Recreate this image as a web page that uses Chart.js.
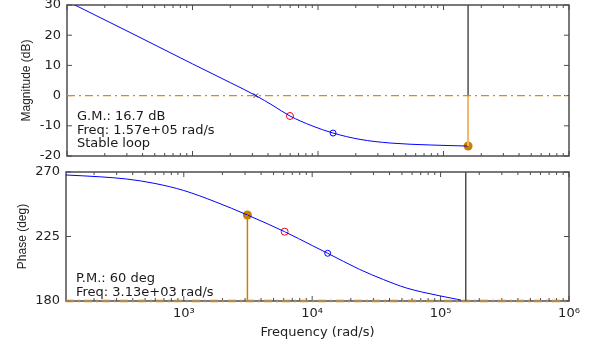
<!DOCTYPE html>
<html>
<head>
<meta charset="utf-8">
<script src="https://cdn.jsdelivr.net/npm/chart.js@4/dist/chart.umd.min.js"></script>
<style>
  body { margin: 0; background: #fff; }
  #wrap { position: relative; width: 597px; height: 346px; }
  canvas { position: absolute; left: 0; top: 0; }
</style>
</head>
<body>
<div id="wrap">
  <canvas id="mag" width="597" height="346"></canvas>
  <canvas id="phase" width="597" height="346"></canvas>
</div>
<script>
// magnitude curve (rad/s, dB)
const magFreq = [100, 318, 1000, 2000, 3200, 4375, 5980, 8950, 13180, 21620, 37500, 78000, 157000];
const magDb   = [31.3, 20.9, 10.5, 4.3, 0, -3.3, -6.75, -10.0, -12.4, -14.5, -15.7, -16.35, -16.7];

// phase curve (rad/s, deg)
const phaseFreq = [121, 222, 360, 596, 1000, 1774, 3130, 6100, 10000, 13200, 23340, 35840, 54040, 97500, 144000];
const phaseDeg  = [267.9, 266.65, 265.1, 262.0, 257.1, 249.1, 240, 228.35, 218.7, 213.3, 202.1, 195.0, 189.1, 183.7, 180.7];

// circle markers on the curves (red, blue)
const magMarkFreq = [5980, 13180];
const magMarkDb = [-6.75, -12.4];
const phaseMarkFreq = [6100, 13200];
const phaseMarkDeg = [228.35, 213.3];

// margins
const crossFreq = 3200;
const gmFreq = 1.57e5;
const gmLevel = -16.7;
const pmFreq = 3130;
const pmLevel = 240;

// axes
const magFreqRange = [100, 1e6];
const phaseFreqRange = [121, 1e6];
const magRange = [-20, 30];
const phaseRange = [180, 270];
const freqTickValues = [1e3, 1e4, 1e5, 1e6];
const freqTickLabels = ['10³', '10⁴', '10⁵', '10⁶'];

const gmText = ['G.M.: 16.7 dB', 'Freq: 1.57e+05 rad/s', 'Stable loop'];
const pmText = ['P.M.: 60 deg', 'Freq: 3.13e+03 rad/s'];

const orange = 'rgb(204,128,0)';
const dashOrange = 'rgb(222,140,0)';
const axisGray = '#4d4d4d';

Chart.defaults.font.family = 'DejaVu Sans';
Chart.defaults.color = '#222';

function pts(xs, ys) {
  return xs.map((x, i) => ({ x: x, y: ys[i] }));
}

function logTicks(scale) {
  const out = [];
  for (let d = 2; d <= 5; d++) {
    for (let m = 1; m <= 9; m++) {
      const v = m * Math.pow(10, d);
      if (v >= scale.min && v <= scale.max) out.push({ value: v, major: m === 1 });
    }
  }
  out.push({ value: 1e6, major: true });
  scale.ticks = out;
}

// MATLAB style box with inward ticks on all four sides
const boxTicks = {
  id: 'boxTicks',
  beforeDatasetsDraw(chart) {
    const { ctx, chartArea: a, scales: { x, y } } = chart;
    ctx.save();
    ctx.strokeStyle = axisGray;
    ctx.lineWidth = 1;
    ctx.beginPath();
    x.ticks.forEach(t => {
      const px = x.getPixelForValue(t.value);
      const len = t.major ? 5 : 3;
      ctx.moveTo(px, a.bottom); ctx.lineTo(px, a.bottom - len);
      ctx.moveTo(px, a.top); ctx.lineTo(px, a.top + len);
    });
    y.ticks.forEach(t => {
      const py = y.getPixelForValue(t.value);
      ctx.moveTo(a.left, py); ctx.lineTo(a.left + 5, py);
      ctx.moveTo(a.right, py); ctx.lineTo(a.right - 5, py);
    });
    ctx.stroke();
    ctx.lineWidth = 1.5;
    ctx.strokeRect(a.left, a.top, a.right - a.left, a.bottom - a.top);
    ctx.restore();
  }
};

const notes = {
  id: 'notes',
  afterDraw(chart, args, opts) {
    const { ctx, chartArea: a } = chart;
    ctx.save();
    ctx.font = '13px "DejaVu Sans"';
    ctx.fillStyle = '#1a1a1a';
    ctx.textBaseline = 'alphabetic';
    opts.lines.forEach((s, i) => {
      ctx.fillText(s, a.left + 10, a.top + opts.first + i * 13.6);
    });
    ctx.restore();
  }
};

function yAxis(range, step, title, width, titlePad) {
  return {
    min: range[0], max: range[1],
    ticks: { stepSize: step, padding: 6, font: { size: 13 }, color: '#222' },
    grid: { display: false, drawTicks: false },
    border: { display: false },
    title: { display: true, text: title, color: '#222', font: { family: 'Liberation Sans', size: 12 }, padding: { top: titlePad, bottom: 0 } },
    afterFit: s => { s.width = width; s.paddingTop = 0; s.paddingBottom = 0; }
  };
}

// magnitude panel
new Chart(document.getElementById('mag'), {
  type: 'line',
  data: {
    datasets: [
      { data: pts(magFreqRange, [0, 0]), borderColor: dashOrange, borderWidth: 1.4, borderDash: [8, 4, 2, 4], pointRadius: 0 },
      { data: pts([gmFreq, gmFreq], [magRange[1], 0]), borderColor: 'rgb(80,80,80)', borderWidth: 1.5, pointRadius: 0 },
      { data: pts([gmFreq, gmFreq], [0, gmLevel]), borderColor: 'rgb(235,185,110)', borderWidth: 2, pointRadius: 0 },
      { data: pts(magFreq, magDb), borderColor: '#0000ff', borderWidth: 1, pointRadius: 0, cubicInterpolationMode: 'monotone' },
      { data: pts([crossFreq], [0]), showLine: false, pointStyle: 'crossRot', pointRadius: 3, pointBorderColor: '#202070', pointBorderWidth: 1 },
      { data: pts(magMarkFreq, magMarkDb), showLine: false, pointRadius: [3.5, 3], pointBorderColor: ['#ff0000', '#0000ff'], pointBackgroundColor: 'rgba(0,0,0,0)', pointBorderWidth: 1 },
      { data: pts([gmFreq], [gmLevel]), showLine: false, pointRadius: 4.5, pointBackgroundColor: orange, pointBorderWidth: 0, clip: false }
    ]
  },
  options: {
    responsive: false, animation: false, events: [],
    layout: { padding: { top: 5, right: 28, bottom: 190, left: 0 } },
    plugins: { legend: { display: false }, tooltip: { enabled: false }, notes: { lines: gmText, first: 115 } },
    scales: {
      x: {
        type: 'logarithmic', min: magFreqRange[0], max: magFreqRange[1],
        afterBuildTicks: logTicks,
        ticks: { display: false },
        grid: { display: false, drawTicks: false },
        border: { display: false },
        afterFit: s => { s.height = 0; s.paddingLeft = 0; s.paddingRight = 0; }
      },
      y: yAxis(magRange, 10, 'Magnitude (dB)', 67, 19)
    }
  },
  plugins: [boxTicks, notes]
});

// phase panel
new Chart(document.getElementById('phase'), {
  type: 'line',
  data: {
    datasets: [
      { data: pts([gmFreq, gmFreq], phaseRange), borderColor: 'rgb(80,80,80)', borderWidth: 1.5, pointRadius: 0 },
      { data: pts(phaseFreqRange, [180, 180]), borderColor: 'rgba(215,150,60,0.6)', borderWidth: 3, borderDash: [8, 4, 2, 4], pointRadius: 0, clip: false },
      { data: pts([pmFreq, pmFreq], [180, pmLevel]), borderColor: orange, borderWidth: 1.5, pointRadius: 0 },
      { data: pts(phaseFreq, phaseDeg), borderColor: '#0000ff', borderWidth: 1, pointRadius: 0, cubicInterpolationMode: 'monotone' },
      { data: pts(phaseMarkFreq, phaseMarkDeg), showLine: false, pointRadius: [3.5, 3], pointBorderColor: ['#ff0000', '#0000ff'], pointBackgroundColor: 'rgba(0,0,0,0)', pointBorderWidth: 1 },
      { data: pts([pmFreq], [pmLevel]), showLine: false, pointRadius: 4.5, pointBackgroundColor: orange, pointBorderWidth: 0 }
    ]
  },
  options: {
    responsive: false, animation: false, events: [],
    layout: { padding: { top: 172, right: 28, bottom: 0, left: 0 } },
    plugins: { legend: { display: false }, tooltip: { enabled: false }, notes: { lines: pmText, first: 110 } },
    scales: {
      x: {
        type: 'logarithmic', min: phaseFreqRange[0], max: phaseFreqRange[1],
        afterBuildTicks: logTicks,
        ticks: {
          autoSkip: false, maxRotation: 0, padding: 5, font: { size: 13 }, color: '#222',
          callback: v => {
            const i = freqTickValues.indexOf(v);
            return i >= 0 ? freqTickLabels[i] : '';
          }
        },
        grid: { display: false, drawTicks: false },
        border: { display: false },
        title: { display: true, text: 'Frequency (rad/s)', color: '#222', font: { size: 13 }, padding: { top: 0, bottom: 6 } },
        afterFit: s => { s.height = 45; s.paddingLeft = 0; s.paddingRight = 0; }
      },
      y: yAxis(phaseRange, 45, 'Phase (deg)', 66, 15)
    }
  },
  plugins: [boxTicks, notes]
});
</script>
</body>
</html>
